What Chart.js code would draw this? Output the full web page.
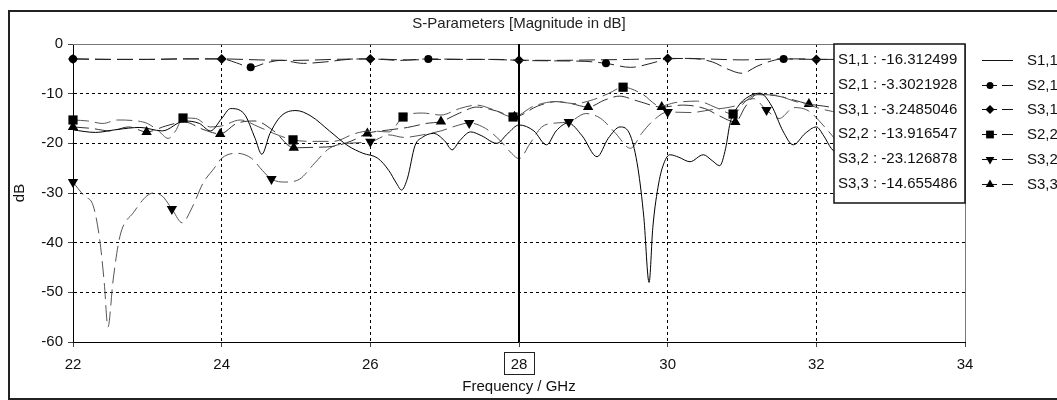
<!DOCTYPE html>
<html>
<head>
<meta charset="utf-8">
<script src="https://cdn.jsdelivr.net/npm/chart.js@4"></script>
<style>
  html, body { margin: 0; padding: 0; background: #fff; }
  #wrap { width: 1057px; height: 400px; }
</style>
</head>
<body>
<div id="wrap"><canvas id="sparam"></canvas></div>
<script>
const FONT = '"Liberation Sans", Arial, sans-serif';

// S1,1 (solid, no markers)
const s11Freq = [22, 22.3, 22.6, 22.9, 23.2, 23.5, 23.7, 23.85, 24.0, 24.12, 24.3, 24.45, 24.54, 24.65, 24.8, 25.0, 25.2, 25.45, 25.7, 25.9, 26.1, 26.25, 26.35, 26.42, 26.5, 26.6, 26.7, 26.85, 27.0, 27.1, 27.2, 27.35, 27.5, 27.7, 27.85, 28.0, 28.2, 28.37, 28.5, 28.66, 28.85, 29.05, 29.2, 29.36, 29.5, 29.6, 29.68, 29.75, 29.8, 29.88, 29.95, 30.03, 30.15, 30.3, 30.48, 30.6, 30.7, 30.78, 30.84, 30.95, 31.1, 31.24, 31.4, 31.55, 31.69, 31.85, 32.0, 32.1, 32.2, 32.35];
const s11Db = [-17.3, -17.8, -17.2, -16.8, -17.5, -15.5, -16, -17.5, -15, -13, -14, -19, -22.2, -18, -14.5, -13.4, -14.5, -17.5, -20.5, -22, -23, -25.5, -28, -29.4, -27, -20.5, -18.8, -18, -19.5, -21.3, -19.5, -17.7, -18.5, -20, -18, -16.3, -17.5, -20.3, -17.5, -15.9, -18.5, -22.7, -19, -16.7, -18.5, -25, -35, -48, -37, -28, -24, -22.3, -22.8, -23.7, -22.3, -23.5, -24.5, -21, -15.9, -12.5, -10.5, -9.9, -12.5, -17.5, -20.3, -18, -16.7, -18.5, -21, -23];

// S2,1 (circles)
const s21Freq = [22, 22.5, 23, 23.5, 24, 24.2, 24.39, 24.6, 24.8, 25.1, 25.4, 25.7, 26, 26.4, 26.78, 27.3, 27.7, 28, 28.5, 28.9, 29.17, 29.5, 29.8, 30, 30.3, 30.6, 30.8, 31.0, 31.2, 31.4, 31.56, 31.8, 32, 32.3];
const s21Db = [-3.0, -3.1, -3.1, -3.0, -3.0, -3.8, -4.7, -3.8, -3.3, -3.9, -3.6, -3.1, -3.0, -3.3, -3.0, -3.1, -3.1, -3.3, -3.4, -3.5, -3.9, -4.7, -3.8, -3.0, -2.9, -3.6, -5.0, -5.9, -4.5, -3.4, -3.0, -3.0, -3.1, -3.1];
const s21Marks = [22, 24.39, 26.78, 29.17, 31.56];

// S3,1 (diamonds)
const s31Freq = [22, 22.5, 23, 23.5, 24, 24.5, 25, 25.5, 26, 26.5, 27, 27.5, 28, 28.5, 29, 29.5, 30, 30.5, 31, 31.5, 32, 32.3];
const s31Db = [-3.0, -3.1, -3.1, -3.0, -3.0, -3.2, -3.3, -3.1, -3.0, -3.2, -3.1, -3.1, -3.25, -3.3, -3.2, -3.1, -2.9, -3.0, -3.2, -3.0, -3.1, -3.1];
const s31Marks = [22, 24, 26, 28, 30, 32];

// S2,2 (squares)
const s22Freq = [22, 22.2, 22.4, 22.6, 22.8, 23.0, 23.15, 23.28, 23.38, 23.48, 23.65, 23.85, 24.0, 24.25, 24.5, 24.7, 24.96, 25.2, 25.5, 25.8, 26.0, 26.25, 26.44, 26.7, 26.95, 27.2, 27.43, 27.65, 27.92, 28.2, 28.5, 28.75, 29.0, 29.2, 29.4, 29.65, 29.9, 30.1, 30.4, 30.65, 30.88, 31.05, 31.2, 31.45, 31.7, 31.9, 32.1, 32.36];
const s22Db = [-15.3, -15.5, -16, -15.3, -15.4, -16, -17.5, -19, -17.5, -14.9, -15, -16.7, -16.5, -15.3, -16.7, -18, -19.3, -19.6, -19.6, -18, -17.5, -17.7, -14.7, -13.9, -14.3, -13, -12.3, -13.2, -14.7, -12.5, -11.6, -12, -11.2, -10, -8.7, -10, -12.5, -11.8, -11.5, -12.8, -14.1, -11.5, -10.2, -10.3, -11.5, -12.3, -13.2, -14];
const s22Marks = [22, 23.48, 24.96, 26.44, 27.92, 29.4, 30.88, 32.36];

// S3,2 (down triangles)
const s32Freq = [22, 22.15, 22.27, 22.36, 22.42, 22.47, 22.54, 22.63, 22.81, 23.08, 23.2, 23.33, 23.47, 23.6, 23.75, 23.9, 24.0, 24.2, 24.4, 24.55, 24.67, 24.85, 25.05, 25.25, 25.45, 25.7, 26.0, 26.25, 26.45, 26.7, 26.95, 27.15, 27.33, 27.55, 27.75, 27.9, 28.0, 28.15, 28.3, 28.5, 28.67, 28.9, 29.1, 29.3, 29.5, 29.65, 29.8, 30.0, 30.3, 30.6, 30.9, 31.15, 31.33, 31.5, 31.7, 31.9, 32.1, 32.3];
const s32Db = [-27.8, -30.6, -32.5, -39.5, -48, -57, -47.5, -38.8, -34, -30, -30.6, -33.2, -36, -33, -28, -25, -23, -22, -23, -25.5, -27.2, -27.8, -27.2, -24, -21, -20, -19.7, -18.3, -18.8, -18.3, -17.5, -16.5, -15.9, -17, -19.5, -22, -23.1, -20, -16.8, -15.9, -15.7, -14, -15, -18, -21, -18, -15.5, -13.7, -13.8, -13.2, -12.5, -11, -13.3, -15, -12.8, -13.5, -16.5, -20];
const s32Marks = [22, 23.33, 24.67, 26.0, 27.33, 28.67, 30.0, 31.33];

// S3,3 (up triangles)
const s33Freq = [22, 22.25, 22.5, 22.75, 22.99, 23.25, 23.5, 23.75, 23.98, 24.2, 24.45, 24.7, 24.97, 25.25, 25.5, 25.75, 25.96, 26.25, 26.5, 26.75, 26.95, 27.2, 27.43, 27.7, 27.94, 28.25, 28.5, 28.7, 28.93, 29.15, 29.35, 29.6, 29.92, 30.2, 30.5, 30.7, 30.91, 31.05, 31.2, 31.45, 31.7, 31.9, 32.1, 32.3];
const s33Db = [-16.7, -17, -17.5, -16.7, -17.7, -16.5, -15.7, -17.2, -18.1, -16, -15.5, -17.5, -20.9, -20.8, -20.6, -19.5, -18, -17.3, -16.8, -16, -15.6, -13.9, -12.7, -13.5, -14.66, -12.5, -11.6, -12, -12.7, -11.3, -10.5, -11.5, -12.7, -12.3, -13, -14.5, -15.7, -12.5, -10.2, -10.4, -11.3, -12.1, -12.5, -13];
const s33Marks = [22, 22.99, 23.98, 24.97, 25.96, 26.95, 27.94, 28.93, 29.92, 30.91, 31.9];

const seriesNames = ['S1,1', 'S2,1', 'S3,1', 'S2,2', 'S3,2', 'S3,3'];
const markerFreq = 28;
const markerValues = ['-16.312499', '-3.3021928', '-3.2485046', '-13.916547', '-23.126878', '-14.655486'];

function series(label, freq, db, marks, look) {
  return {
    label: label,
    data: freq.map((f, i) => ({ x: f, y: db[i] })),
    borderColor: look.color,
    borderWidth: 1,
    borderDash: look.dash || [],
    pointStyle: look.point || 'circle',
    pointRotation: look.rotation || 0,
    pointRadius: ctx => (ctx.raw && marks.includes(ctx.raw.x)) ? look.radius : 0,
    pointHoverRadius: 0,
    pointBackgroundColor: '#000',
    pointBorderColor: '#000',
    pointBorderWidth: 0,
    cubicInterpolationMode: 'monotone',
    fill: false,
    clip: false,
    legendRadius: look.legendRadius
  };
}

const DASH = [16, 6];
const datasets = [
  series('S1,1', s11Freq, s11Db, [], { color: '#000', radius: 0 }),
  series('S2,1', s21Freq, s21Db, s21Marks, { color: '#222', dash: DASH, point: 'circle', radius: 4, legendRadius: 3.5 }),
  series('S3,1', s31Freq, s31Db, s31Marks, { color: '#222', dash: DASH, point: 'rectRot', radius: 5, legendRadius: 4.5 }),
  series('S2,2', s22Freq, s22Db, s22Marks, { color: '#555', dash: DASH, point: 'rect', radius: 6.5, legendRadius: 5.5 }),
  series('S3,2', s32Freq, s32Db, s32Marks, { color: '#555', dash: DASH, point: 'triangle', rotation: 180, radius: 6, legendRadius: 5 }),
  series('S3,3', s33Freq, s33Db, s33Marks, { color: '#333', dash: DASH, point: 'triangle', radius: 6, legendRadius: 5 })
];

const decorations = {
  id: 'decorations',
  beforeDraw(chart) {
    const ctx = chart.ctx;
    const area = chart.chartArea;
    ctx.save();
    ctx.fillStyle = '#fff';
    ctx.fillRect(0, 0, chart.width, chart.height);
    ctx.strokeStyle = '#222';
    ctx.lineWidth = 2;
    ctx.strokeRect(9, 11, chart.width, chart.height - 12);
    ctx.fillStyle = '#222';
    ctx.font = '15px ' + FONT;
    ctx.textAlign = 'center';
    ctx.textBaseline = 'middle';
    ctx.fillText('S-Parameters [Magnitude in dB]', (area.left + area.right) / 2, 24);
    ctx.restore();
  },
  beforeDatasetsDraw(chart) {
    const ctx = chart.ctx;
    const a = chart.chartArea;
    ctx.save();
    ctx.strokeStyle = '#777';
    ctx.lineWidth = 1;
    ctx.beginPath();
    ctx.moveTo(a.left, a.top + 0.5);
    ctx.lineTo(a.right + 0.5, a.top + 0.5);
    ctx.lineTo(a.right + 0.5, a.bottom);
    ctx.stroke();
    ctx.restore();
  },
  afterDatasetsDraw(chart) {
    const ctx = chart.ctx;
    const a = chart.chartArea;
    const mx = chart.scales.x.getPixelForValue(markerFreq);
    ctx.save();
    // marker line
    ctx.strokeStyle = '#000';
    ctx.lineWidth = 2;
    ctx.beginPath();
    ctx.moveTo(mx, a.top);
    ctx.lineTo(mx, a.bottom);
    ctx.stroke();
    // marker value box
    const bw = 131, bh = 159;
    const bx = a.right - bw, by = a.top;
    ctx.fillStyle = '#fff';
    ctx.fillRect(bx, by, bw, bh);
    ctx.lineWidth = 1.5;
    ctx.strokeStyle = '#111';
    ctx.strokeRect(bx, by, bw, bh);
    ctx.fillStyle = '#111';
    ctx.font = '15px ' + FONT;
    ctx.textAlign = 'left';
    ctx.textBaseline = 'middle';
    seriesNames.forEach((n, i) => {
      ctx.fillText(n + ' : ' + markerValues[i], bx + 4, by + 16 + i * 24.7);
    });
    ctx.restore();
  },
  afterDraw(chart) {
    const ctx = chart.ctx;
    const a = chart.chartArea;
    const mx = chart.scales.x.getPixelForValue(markerFreq);
    ctx.save();
    // box around the marker tick label
    ctx.strokeStyle = '#222';
    ctx.lineWidth = 1;
    ctx.strokeRect(Math.round(mx) - 14.5, a.bottom + 10.5, 30, 22);
    // legend
    const lx = a.right + 17;
    ctx.font = '15px ' + FONT;
    ctx.textAlign = 'left';
    ctx.textBaseline = 'middle';
    chart.data.datasets.forEach((ds, i) => {
      const y = Math.round(a.top + 16 + i * 24.7) + 0.5;
      ctx.strokeStyle = '#111';
      ctx.lineWidth = 1;
      ctx.setLineDash(i === 0 ? [] : [15, 5, 11]);
      ctx.beginPath();
      ctx.moveTo(lx, y);
      ctx.lineTo(lx + 31, y);
      ctx.stroke();
      ctx.setLineDash([]);
      if (i > 0) {
        ctx.fillStyle = '#000';
        ctx.strokeStyle = '#000';
        Chart.helpers.drawPoint(ctx, {
          pointStyle: ds.pointStyle,
          rotation: ds.pointRotation,
          radius: ds.legendRadius,
          borderWidth: 0
        }, lx + 8, y);
      }
      ctx.fillStyle = '#111';
      ctx.fillText(ds.label, lx + 45, y);
    });
    ctx.restore();
  }
};

const transparent = 'rgba(0,0,0,0)';

new Chart(document.getElementById('sparam'), {
  type: 'line',
  data: { datasets: datasets },
  options: {
    responsive: true,
    maintainAspectRatio: false,
    animation: false,
    events: [],
    layout: { padding: { top: 44, right: 92, left: 0, bottom: 0 } },
    plugins: {
      legend: { display: false },
      title: { display: false },
      tooltip: { enabled: false }
    },
    scales: {
      x: {
        type: 'linear',
        min: 22,
        max: 34,
        ticks: { stepSize: 2, color: '#111', font: { family: FONT, size: 15 }, padding: 9, maxRotation: 0 },
        grid: {
          color: c => (c.tick && [22, 28, 34].includes(c.tick.value)) ? transparent : '#000',
          tickColor: '#444',
          tickLength: 5,
          lineWidth: 1
        },
        border: { color: '#000', width: 1, dash: [3, 3] },
        title: { display: true, text: 'Frequency / GHz', color: '#111', font: { family: FONT, size: 15 }, padding: { bottom: 4 } },
        afterFit: s => { s.height = 58; }
      },
      y: {
        min: -60,
        max: 0,
        ticks: { stepSize: 10, color: '#111', font: { family: FONT, size: 15 }, padding: 5 },
        grid: {
          color: c => (c.tick && (c.tick.value === 0 || c.tick.value === -60)) ? transparent : '#000',
          tickColor: '#444',
          tickLength: 5,
          lineWidth: 1
        },
        border: { color: '#000', width: 1, dash: [3, 3] },
        title: { display: true, text: 'dB', color: '#111', font: { family: FONT, size: 15 }, padding: { top: 11 } },
        afterFit: s => { s.width = 73; }
      }
    }
  },
  plugins: [decorations]
});
</script>
</body>
</html>
